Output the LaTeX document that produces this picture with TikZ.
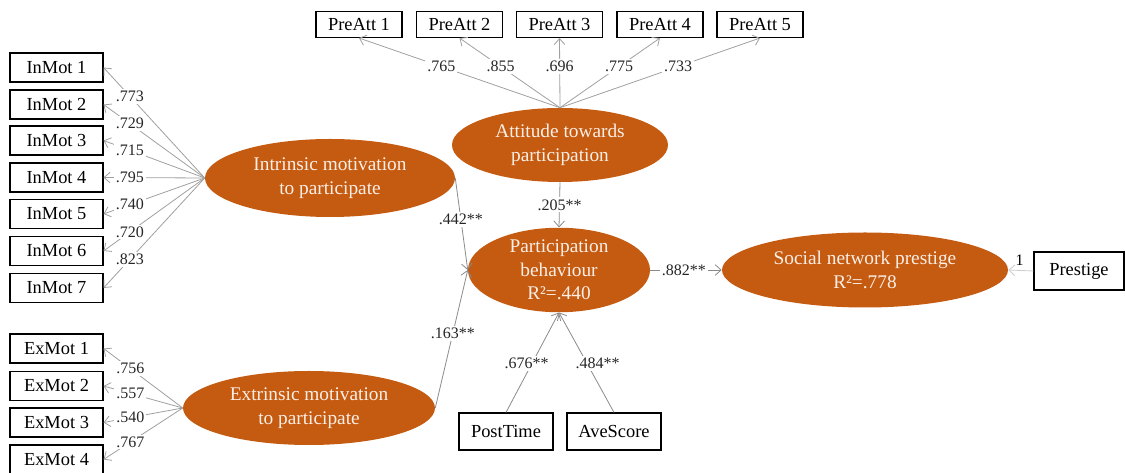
\documentclass[tikz,border=0pt]{standalone}
\usepackage{fontspec}
\setmainfont{Liberation Serif}
\usetikzlibrary{shapes.geometric,arrows.meta}
\definecolor{latent}{HTML}{C55A11}
\definecolor{ltext}{HTML}{FBEFE6}
\definecolor{pathgray}{HTML}{A0A0A0}
\definecolor{structgray}{HTML}{8A8A8A}
\begin{document}
\begin{tikzpicture}[x=0.75pt,y=-0.75pt,
 obs/.style={draw=black, line width=0.8pt, rectangle, minimum width=93*0.75pt, minimum height=29*0.75pt, inner sep=0pt, font=\fontsize{13.8}{16}\selectfont},
 pa/.style={obs, minimum width=86*0.75pt, minimum height=26*0.75pt},
 lat/.style={ellipse, fill=latent, inner sep=0pt, text=ltext, align=center, font=\fontsize{14.5}{18}\selectfont},
 ld/.style={draw=pathgray, line width=0.6pt, -{Straight Barb[length=4.5pt,width=8pt]}},
 sp/.style={draw=structgray, line width=0.6pt, -{Straight Barb[length=4.5pt,width=8pt]}},
 lab/.style={fill=white, inner sep=1.5pt, font=\fontsize{12}{14}\selectfont, text=black!85},
]
\useasboundingbox (0,0) rectangle (1125,473);

% observed indicators
\node[obs] (im1) at (56.5,67.5) {InMot 1};
\node[obs] (im2) at (56.5,104.5) {InMot 2};
\node[obs] (im3) at (56.5,140.5) {InMot 3};
\node[obs] (im4) at (56.5,177.5) {InMot 4};
\node[obs] (im5) at (56.5,214) {InMot 5};
\node[obs] (im6) at (56.5,251) {InMot 6};
\node[obs] (im7) at (56.5,288) {InMot 7};

\node[obs] (em1) at (56.5,348.5) {ExMot 1};
\node[obs] (em2) at (56.5,386) {ExMot 2};
\node[obs] (em3) at (56.5,422.5) {ExMot 3};
\node[obs] (em4) at (56.5,459.5) {ExMot 4};

\node[pa] (pa1) at (359,24.5) {PreAtt 1};
\node[pa] (pa2) at (459.5,24.5) {PreAtt 2};
\node[pa] (pa3) at (559.5,24.5) {PreAtt 3};
\node[pa] (pa4) at (660,24.5) {PreAtt 4};
\node[pa] (pa5) at (760,24.5) {PreAtt 5};

\node[obs, minimum width=94*0.75pt, minimum height=37*0.75pt] (post) at (506,431.5) {PostTime};
\node[obs, minimum width=94*0.75pt, minimum height=37*0.75pt] (ave) at (614,431.5) {AveScore};
\node[obs, minimum width=90*0.75pt, minimum height=38*0.75pt] (pres) at (1079,271) {Prestige};

% latent variables
\node[lat, minimum width=250*0.75pt, minimum height=78*0.75pt] (intr) at (330,178) {Intrinsic motivation\\to participate};
\node[lat, minimum width=252*0.75pt, minimum height=74*0.75pt] (ext) at (309,408) {Extrinsic motivation\\to participate};
\node[lat, minimum width=216*0.75pt, minimum height=74*0.75pt] (att) at (560,145) {Attitude towards\\participation};
\node[lat, minimum width=182*0.75pt, minimum height=76*0.75pt, font=\fontsize{14.5}{17.5}\selectfont] (part) at (559,270) {Participation\\behaviour\\R²=.440};
\node[lat, minimum width=286*0.75pt, minimum height=75*0.75pt] (soc) at (865,270) {Social network prestige\\R²=.778};

% loadings intrinsic
\draw[ld] (intr.west) -- node[lab,pos=.74]{.773} (im1.east);
\draw[ld] (intr.west) -- node[lab,pos=.74]{.729} (im2.east);
\draw[ld] (intr.west) -- node[lab,pos=.74]{.715} (im3.east);
\draw[ld] (intr.west) -- node[lab,pos=.74]{.795} (im4.east);
\draw[ld] (intr.west) -- node[lab,pos=.74]{.740} (im5.east);
\draw[ld] (intr.west) -- node[lab,pos=.74]{.720} (im6.east);
\draw[ld] (intr.west) -- node[lab,pos=.74]{.823} (im7.east);

% loadings extrinsic
\draw[ld] (ext.west) -- node[lab,pos=.66]{.756} (em1.east);
\draw[ld] (ext.west) -- node[lab,pos=.66]{.557} (em2.east);
\draw[ld] (ext.west) -- node[lab,pos=.66]{.540} (em3.east);
\draw[ld] (ext.west) -- node[lab,pos=.66]{.767} (em4.east);

% loadings attitude
\draw[ld] (att.north) -- node[lab,pos=.59]{.765} (pa1.south);
\draw[ld] (att.north) -- node[lab,pos=.59]{.855} (pa2.south);
\draw[ld] (att.north) -- node[lab,pos=.59]{.696} (pa3.south);
\draw[ld] (att.north) -- node[lab,pos=.59]{.775} (pa4.south);
\draw[ld] (att.north) -- node[lab,pos=.59]{.733} (pa5.south);

% structural paths
\draw[sp] (intr.east) -- node[lab,pos=.45]{.442**} (part.west);
\draw[sp] (ext.east) -- node[lab,pos=.54]{.163**} (part.west);
\draw[sp] (att.south) -- node[lab,pos=.5]{.205**} (part.north);
\draw[sp] (part.east) -- node[lab,pos=.47]{.882**} (soc.west);
\draw[sp] (post.north) -- node[lab,pos=.49,xshift=-4pt]{.676**} (part.south);
\draw[sp] (ave.north) -- node[lab,pos=.49,xshift=8pt]{.484**} (part.south);
\draw[ld, draw=gray!40] (pres.west) -- node[above, font=\fontsize{12}{14}\selectfont, pos=.55]{1} (soc.east);
\end{tikzpicture}
\end{document}
